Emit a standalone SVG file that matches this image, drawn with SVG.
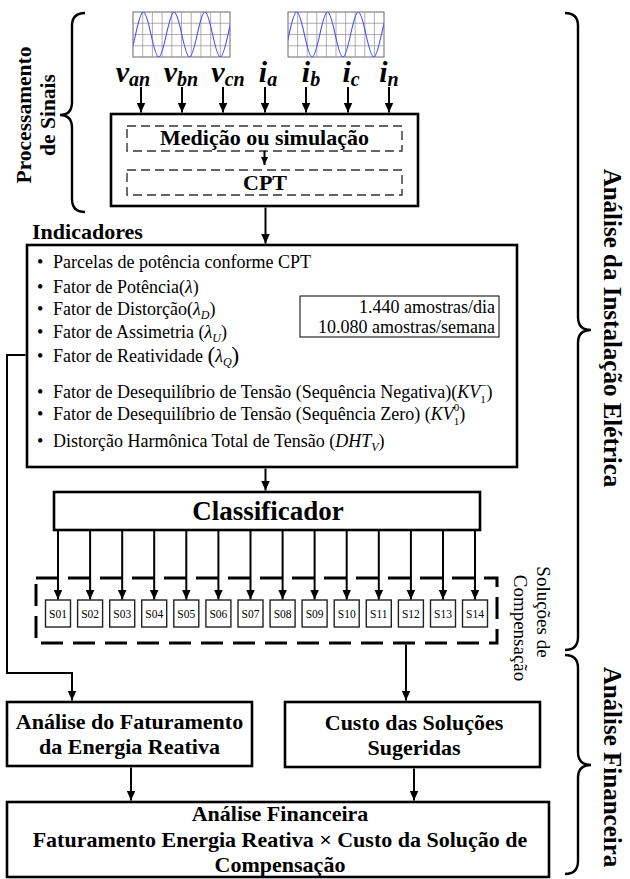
<svg xmlns="http://www.w3.org/2000/svg" width="630" height="879" viewBox="0 0 630 879" font-family="'Liberation Serif', 'Times New Roman', Times, serif">
<style>
text{font-family:"Liberation Serif","Times New Roman",Times,serif;fill:#000}
.b{font-weight:bold}
.box{fill:#fff;stroke:#000;stroke-width:2.6}
.dash{fill:none;stroke:#333;stroke-width:1.4;stroke-dasharray:9 5}
.conn{fill:none;stroke:#000;stroke-width:2}
.brace{fill:none;stroke:#000;stroke-width:2.4}
.grid{fill:none;stroke:#999;stroke-width:0.8}
.wave{fill:none;stroke:#4a4aff;stroke-width:1.1}
.sb{fill:#fff;stroke:#222;stroke-width:1.4}
.st{font-size:11.5px;text-anchor:middle}
.sig{font-size:30px;font-weight:bold;font-style:italic;text-anchor:middle}
.sub{font-size:20px}
.m{font-style:italic}
</style>
<defs>
<marker id="ah" markerUnits="userSpaceOnUse" markerWidth="10" markerHeight="9" refX="10" refY="4.5" orient="auto">
<path d="M0,0 L10,4.5 L0,9 z" fill="#000"/>
</marker>
<marker id="ahs" markerUnits="userSpaceOnUse" markerWidth="8" markerHeight="7" refX="8" refY="3.5" orient="auto">
<path d="M0,0 L8,3.5 L0,7 z" fill="#000"/>
</marker>
<clipPath id="c1"><rect x="133" y="12" width="97" height="45"/></clipPath>
<clipPath id="c2"><rect x="288" y="12" width="96" height="45"/></clipPath>
</defs>

<g id="waveform-v">
<rect x="133" y="12" width="97" height="45" fill="#fff" stroke="#666" stroke-width="1"/>
<path class="grid" d="M142.7,12V57M152.4,12V57M162.1,12V57M171.8,12V57M181.5,12V57M191.2,12V57M200.9,12V57M210.6,12V57M220.3,12V57M133,23.25H230M133,34.5H230M133,45.75H230"/>
<path class="wave" clip-path="url(#c1)" d="M104.8,34.5 c6.54,-30 8.86,-30 15.4,0 s8.86,30 15.4,0 s8.86,-30 15.4,0 s8.86,30 15.4,0 s8.86,-30 15.4,0 s8.86,30 15.4,0 s8.86,-30 15.4,0 s8.86,30 15.4,0 s8.86,-30 15.4,0 s8.86,30 15.4,0"/>
</g>
<g id="waveform-i">
<rect x="288" y="12" width="96" height="45" fill="#fff" stroke="#666" stroke-width="1"/>
<path class="grid" d="M297.6,12V57M307.2,12V57M316.8,12V57M326.4,12V57M336,12V57M345.6,12V57M355.2,12V57M364.8,12V57M374.4,12V57M288,23.25H384M288,34.5H384M288,45.75H384"/>
<path class="wave" clip-path="url(#c2)" d="M258.2,34.5 c6.54,-30 8.86,-30 15.4,0 s8.86,30 15.4,0 s8.86,-30 15.4,0 s8.86,30 15.4,0 s8.86,-30 15.4,0 s8.86,30 15.4,0 s8.86,-30 15.4,0 s8.86,30 15.4,0 s8.86,-30 15.4,0 s8.86,30 15.4,0"/>
</g>

<g id="signals">
<text class="sig" x="133" y="82">v<tspan class="sub" dy="4">an</tspan></text>
<text class="sig" x="181" y="82">v<tspan class="sub" dy="4">bn</tspan></text>
<text class="sig" x="228" y="82">v<tspan class="sub" dy="4">cn</tspan></text>
<text class="sig" x="268" y="82">i<tspan class="sub" dy="4">a</tspan></text>
<text class="sig" x="311" y="82">i<tspan class="sub" dy="4">b</tspan></text>
<text class="sig" x="351" y="82">i<tspan class="sub" dy="4">c</tspan></text>
<text class="sig" x="389" y="82">i<tspan class="sub" dy="4">n</tspan></text>
</g>

<g id="brace-processamento">
<path class="brace" d="M85,13 Q72,13 72,26 L72,102 Q72,115 60,115 Q72,115 72,128 L72,199 Q72,212 85,212"/>
<g transform="translate(0,115) rotate(-90)">
<text class="b" x="0" y="31" font-size="21.5" text-anchor="middle">Processamento</text>
<text class="b" x="0" y="55" font-size="21.5" text-anchor="middle">de Sinais</text>
</g>
</g>

<g id="node-processamento">
<rect class="box" x="111" y="114" width="307" height="92" stroke-width="3"/>
<rect class="dash" x="127" y="126" width="275" height="25"/>
<text class="b" x="264.5" y="144.5" font-size="22" text-anchor="middle">Medição ou simulação</text>
<rect class="dash" x="127" y="170" width="275" height="25"/>
<text class="b" x="265" y="190" font-size="22" text-anchor="middle">CPT</text>
</g>

<g id="node-indicadores">
<text class="b" x="32" y="239" font-size="22">Indicadores</text>
<rect class="box" x="27" y="245" width="490" height="222" stroke-width="3"/>
<text x="37" y="268" font-size="18">•</text><text x="53" y="268" font-size="18">Parcelas de potência conforme CPT</text>
<text x="37" y="293" font-size="18">•</text><text x="53" y="293" font-size="18">Fator de Potência<tspan>(</tspan><tspan class="m">λ</tspan>)</text>
<text x="37" y="315" font-size="18">•</text><text x="53" y="315" font-size="18">Fator de Distorção<tspan>(</tspan><tspan class="m">λ</tspan><tspan class="m" font-size="12" dy="4">D</tspan><tspan dy="-4">)</tspan></text>
<text x="37" y="338" font-size="18">•</text><text x="53" y="338" font-size="18">Fator de Assimetria (<tspan class="m">λ</tspan><tspan class="m" font-size="12" dy="4">U</tspan><tspan dy="-4">)</tspan></text>
<text x="37" y="362" font-size="18">•</text><text x="53" y="362" font-size="18">Fator de Reatividade <tspan font-size="23" dy="1">(</tspan><tspan class="m" dy="-1">λ</tspan><tspan class="m" font-size="12" dy="4">Q</tspan><tspan font-size="23" dy="-3">)</tspan></text>
<text x="37" y="398" font-size="18">•</text><text x="53" y="398" font-size="18">Fator de Desequilíbrio de Tensão (Sequência Negativa)<tspan>(</tspan><tspan class="m">KV</tspan><tspan font-size="11" dy="5">1</tspan><tspan font-size="11" dx="-5.5" dy="-14">−</tspan><tspan dy="9">)</tspan></text>
<text x="37" y="420" font-size="18">•</text><text x="53" y="420" font-size="18">Fator de Desequilíbrio de Tensão (Sequência Zero) (<tspan class="m">KV</tspan><tspan font-size="11" dy="5">1</tspan><tspan font-size="11" dx="-5.5" dy="-14">0</tspan><tspan dy="9">)</tspan></text>
<text x="37" y="447" font-size="18">•</text><text x="53" y="447" font-size="18">Distorção Harmônica Total de Tensão (<tspan class="m">DHT</tspan><tspan class="m" font-size="12" dy="4">V</tspan><tspan dy="-4">)</tspan></text>
<rect x="300" y="296" width="199" height="41" fill="#fff" stroke="#000" stroke-width="1"/>
<text x="495" y="313" font-size="18" text-anchor="end">1.440 amostras/dia</text>
<text x="495" y="333" font-size="18" text-anchor="end">10.080 amostras/semana</text>
</g>

<g id="node-classificador">
<rect class="box" x="54" y="492" width="426" height="38" stroke-width="3"/>
<text class="b" x="268" y="520" font-size="27" text-anchor="middle">Classificador</text>
</g>

<g id="node-solucoes">
<rect x="36" y="578" width="461" height="65" fill="none" stroke="#000" stroke-width="3" stroke-dasharray="22 10"/>
<rect class="sb" x="45.5" y="600" width="25" height="27"/><text class="st" x="58" y="618">S01</text>
<rect class="sb" x="77.6" y="600" width="25" height="27"/><text class="st" x="90.1" y="618">S02</text>
<rect class="sb" x="109.7" y="600" width="25" height="27"/><text class="st" x="122.2" y="618">S03</text>
<rect class="sb" x="141.7" y="600" width="25" height="27"/><text class="st" x="154.2" y="618">S04</text>
<rect class="sb" x="173.8" y="600" width="25" height="27"/><text class="st" x="186.3" y="618">S05</text>
<rect class="sb" x="205.9" y="600" width="25" height="27"/><text class="st" x="218.4" y="618">S06</text>
<rect class="sb" x="238" y="600" width="25" height="27"/><text class="st" x="250.5" y="618">S07</text>
<rect class="sb" x="270.1" y="600" width="25" height="27"/><text class="st" x="282.6" y="618">S08</text>
<rect class="sb" x="302.1" y="600" width="25" height="27"/><text class="st" x="314.6" y="618">S09</text>
<rect class="sb" x="334.2" y="600" width="25" height="27"/><text class="st" x="346.7" y="618">S10</text>
<rect class="sb" x="366.3" y="600" width="25" height="27"/><text class="st" x="378.8" y="618">S11</text>
<rect class="sb" x="398.4" y="600" width="25" height="27"/><text class="st" x="410.9" y="618">S12</text>
<rect class="sb" x="430.5" y="600" width="25" height="27"/><text class="st" x="443" y="618">S13</text>
<rect class="sb" x="462.5" y="600" width="25" height="27"/><text class="st" x="475" y="618">S14</text>
<g transform="translate(537,0) rotate(90)">
<text x="612" y="0" font-size="19" text-anchor="middle">Soluções de</text>
<text x="628" y="23" font-size="19" text-anchor="middle">Compensação</text>
</g>
</g>

<g id="node-faturamento">
<rect class="box" x="7" y="702" width="245" height="64"/>
<text class="b" x="129.5" y="729" font-size="22" text-anchor="middle">Análise do Faturamento</text>
<text class="b" x="129.5" y="754" font-size="22" text-anchor="middle">da Energia Reativa</text>
</g>

<g id="node-custo">
<rect class="box" x="285" y="702" width="255" height="65"/>
<text class="b" x="414" y="730" font-size="22" text-anchor="middle">Custo das Soluções</text>
<text class="b" x="414" y="755" font-size="22" text-anchor="middle">Sugeridas</text>
</g>

<g id="node-financeira">
<rect class="box" x="7" y="802" width="542" height="75"/>
<text class="b" x="280" y="821" font-size="22" text-anchor="middle">Análise Financeira</text>
<text class="b" x="280" y="847" font-size="22" text-anchor="middle">Faturamento Energia Reativa × Custo da Solução de</text>
<text class="b" x="280" y="872" font-size="22" text-anchor="middle">Compensação</text>
</g>

<g id="brace-instalacao">
<path class="brace" d="M565,13 Q578,13 578,26 L578,317 Q578,330 591,330 Q578,330 578,343 L578,637 Q578,650 565,650"/>
<text class="b" font-size="25" text-anchor="middle" transform="translate(604,328) rotate(90)">Análise da Instalação Elétrica</text>
</g>
<g id="brace-financeira">
<path class="brace" d="M565,655 Q578,655 578,668 L578,752 Q578,765 591,765 Q578,765 578,778 L578,861 Q578,874 565,874"/>
<text class="b" font-size="25" text-anchor="middle" transform="translate(604,767) rotate(90)">Análise Financeira</text>
</g>

<g id="connectors">
<line class="conn" x1="141" y1="87" x2="141" y2="112.5" marker-end="url(#ah)"/>
<line class="conn" x1="182" y1="87" x2="182" y2="112.5" marker-end="url(#ah)"/>
<line class="conn" x1="223" y1="87" x2="223" y2="112.5" marker-end="url(#ah)"/>
<line class="conn" x1="265" y1="87" x2="265" y2="112.5" marker-end="url(#ah)"/>
<line class="conn" x1="306" y1="87" x2="306" y2="112.5" marker-end="url(#ah)"/>
<line class="conn" x1="348" y1="87" x2="348" y2="112.5" marker-end="url(#ah)"/>
<line class="conn" x1="389" y1="87" x2="389" y2="112.5" marker-end="url(#ah)"/>
<line class="conn" x1="264.5" y1="151" x2="264.5" y2="165" stroke-width="1.6" marker-end="url(#ahs)"/>
<line class="conn" x1="265.5" y1="207.5" x2="265.5" y2="243.5" marker-end="url(#ah)"/>
<line class="conn" x1="265.5" y1="468.5" x2="265.5" y2="490.5" marker-end="url(#ah)"/>
<line class="conn" x1="58" y1="531" x2="58" y2="599.5" marker-end="url(#ah)"/>
<line class="conn" x1="90.1" y1="531" x2="90.1" y2="599.5" marker-end="url(#ah)"/>
<line class="conn" x1="122.2" y1="531" x2="122.2" y2="599.5" marker-end="url(#ah)"/>
<line class="conn" x1="154.2" y1="531" x2="154.2" y2="599.5" marker-end="url(#ah)"/>
<line class="conn" x1="186.3" y1="531" x2="186.3" y2="599.5" marker-end="url(#ah)"/>
<line class="conn" x1="218.4" y1="531" x2="218.4" y2="599.5" marker-end="url(#ah)"/>
<line class="conn" x1="250.5" y1="531" x2="250.5" y2="599.5" marker-end="url(#ah)"/>
<line class="conn" x1="282.6" y1="531" x2="282.6" y2="599.5" marker-end="url(#ah)"/>
<line class="conn" x1="314.6" y1="531" x2="314.6" y2="599.5" marker-end="url(#ah)"/>
<line class="conn" x1="346.7" y1="531" x2="346.7" y2="599.5" marker-end="url(#ah)"/>
<line class="conn" x1="378.8" y1="531" x2="378.8" y2="599.5" marker-end="url(#ah)"/>
<line class="conn" x1="410.9" y1="531" x2="410.9" y2="599.5" marker-end="url(#ah)"/>
<line class="conn" x1="443" y1="531" x2="443" y2="599.5" marker-end="url(#ah)"/>
<line class="conn" x1="475" y1="531" x2="475" y2="599.5" marker-end="url(#ah)"/>
<path class="conn" d="M25.5,355 H7 V673 H72 V700.5" marker-end="url(#ah)"/>
<line class="conn" x1="406" y1="644.5" x2="406" y2="700.5" marker-end="url(#ah)"/>
<line class="conn" x1="131" y1="767.5" x2="131" y2="800.5" marker-end="url(#ah)"/>
<line class="conn" x1="414" y1="768.5" x2="414" y2="800.5" marker-end="url(#ah)"/>
</g>
</svg>
